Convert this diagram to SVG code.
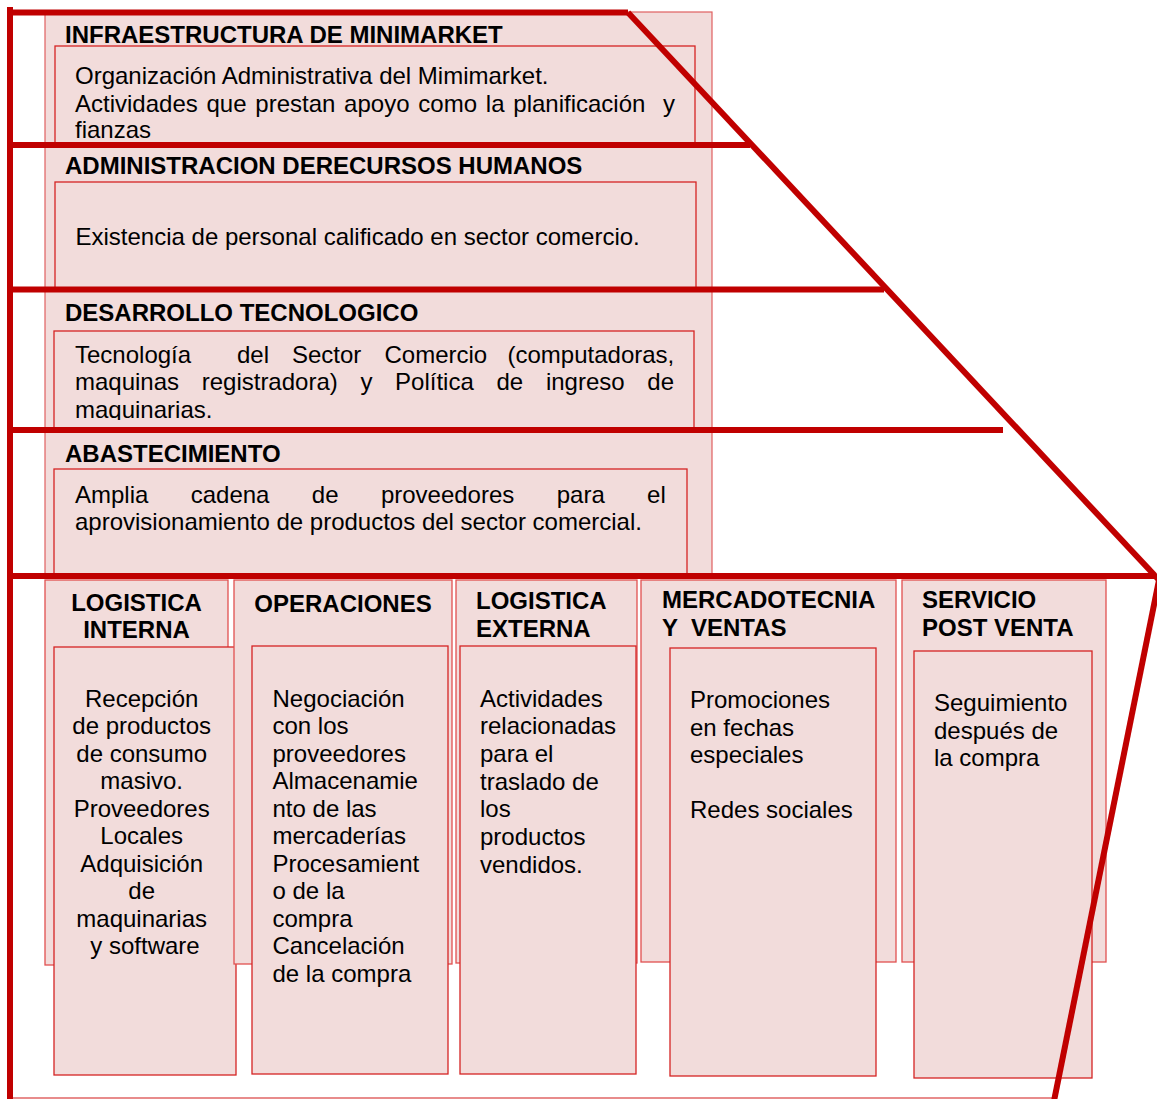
<svg xmlns="http://www.w3.org/2000/svg" width="1157" height="1099" viewBox="0 0 1157 1099">
<style>
.bg{fill:#f2dcdb;stroke:#e06060;stroke-width:1.2}
.box{fill:#f2dcdb;stroke:#d42424;stroke-width:1.3}
.col{fill:#f2dcdb;stroke:#e05050;stroke-width:1.3}
.fr{stroke:#c00000;stroke-width:6;fill:none;stroke-linecap:butt}
.thin{stroke:#e06666;stroke-width:1.3;fill:none}
text{font-family:"Liberation Sans",Arial,Helvetica,sans-serif;font-size:24px;fill:#000}
.h{font-weight:bold}
.c{text-anchor:middle}
</style>
<defs>
<clipPath id="clipTech"><rect x="54" y="331" width="641" height="89"/></clipPath>
<clipPath id="clipInfra"><rect x="55" y="46" width="641" height="99"/></clipPath>
</defs>
<rect class="bg" x="45" y="12" width="667" height="566"/>
<g id="support-infra">
<rect class="box" x="55" y="46" width="640" height="100"/>
<text class="h" x="65" y="42.5">INFRAESTRUCTURA DE MINIMARKET</text>
<g clip-path="url(#clipInfra)">
<text x="75" y="83.5">Organización Administrativa del Mimimarket.</text>
<text y="111.5"><tspan x="75">Actividades</tspan><tspan x="206.5">que</tspan><tspan x="255.3">prestan</tspan><tspan x="344.1">apoyo</tspan><tspan x="418.3">como</tspan><tspan x="485.8">la</tspan><tspan x="513.3">planificación</tspan><tspan x="662.9">y</tspan></text>
<text x="75" y="138">fianzas</text>
</g>
</g>
<g id="support-rrhh">
<rect class="box" x="55" y="182" width="641" height="108"/>
<text class="h" x="65" y="174.3">ADMINISTRACION DERECURSOS HUMANOS</text>
<text x="75.5" y="245">Existencia de personal calificado en sector comercio.</text>
</g>
<g id="support-tech">
<rect class="box" x="54" y="331" width="640" height="99"/>
<text class="h" x="65" y="321">DESARROLLO TECNOLOGICO</text>
<g clip-path="url(#clipTech)">
<text y="362.7"><tspan x="75">Tecnología</tspan><tspan x="237">del</tspan><tspan x="292">Sector</tspan><tspan x="384.5">Comercio</tspan><tspan x="507.5">(computadoras,</tspan></text>
<text y="390"><tspan x="75">maquinas</tspan><tspan x="201.7">registradora)</tspan><tspan x="360.4">y</tspan><tspan x="395.1">Política</tspan><tspan x="496.5">de</tspan><tspan x="545.9">ingreso</tspan><tspan x="647.3">de</tspan></text>
<text x="75" y="417.5">maquinarias.</text>
</g>
</g>
<g id="support-abast">
<rect class="box" x="54" y="469" width="633" height="108"/>
<text class="h" x="65" y="461.7">ABASTECIMIENTO</text>
<text y="502.7"><tspan x="75">Amplia</tspan><tspan x="190.7">cadena</tspan><tspan x="311.8">de</tspan><tspan x="380.9">proveedores</tspan><tspan x="556.7">para</tspan><tspan x="647.1">el</tspan></text>
<text x="75" y="530">aprovisionamiento de productos del sector comercial.</text>
</g>
<g id="primary-logistica-interna">
<rect class="col" x="45" y="580" width="183" height="385"/>
<text class="h c" x="136.5" y="610.7">LOGISTICA</text>
<text class="h c" x="136.5" y="638.3">INTERNA</text>
<rect class="box" x="54" y="647" width="182" height="428"/>
<text class="c">
<tspan x="145" y="706.7">Recepción</tspan>
<tspan x="145" y="734.2">de productos</tspan>
<tspan x="145" y="761.7">de consumo</tspan>
<tspan x="145" y="789.2">masivo.</tspan>
<tspan x="145" y="816.7">Proveedores</tspan>
<tspan x="145" y="844.2">Locales</tspan>
<tspan x="145" y="871.7">Adquisición</tspan>
<tspan x="145" y="899.2">de</tspan>
<tspan x="145" y="926.7">maquinarias</tspan>
<tspan x="145" y="954.2">y software</tspan>
</text>
</g>
<g id="primary-operaciones">
<rect class="col" x="234" y="580" width="218" height="384"/>
<text class="h c" x="343" y="611.7">OPERACIONES</text>
<rect class="box" x="252" y="646" width="196" height="428"/>
<text>
<tspan x="272.5" y="706.7">Negociación</tspan>
<tspan x="272.5" y="734.2">con los</tspan>
<tspan x="272.5" y="761.7">proveedores</tspan>
<tspan x="272.5" y="789.2">Almacenamie</tspan>
<tspan x="272.5" y="816.7">nto de las</tspan>
<tspan x="272.5" y="844.2">mercaderías</tspan>
<tspan x="272.5" y="871.7">Procesamient</tspan>
<tspan x="272.5" y="899.2">o de la</tspan>
<tspan x="272.5" y="926.7">compra</tspan>
<tspan x="272.5" y="954.2">Cancelación</tspan>
<tspan x="272.5" y="981.7">de la compra</tspan>
</text>
</g>
<g id="primary-logistica-externa">
<rect class="col" x="456" y="580" width="181" height="383"/>
<text class="h" x="476" y="609">LOGISTICA</text>
<text class="h" x="476" y="637">EXTERNA</text>
<rect class="box" x="460" y="646" width="176" height="428"/>
<text>
<tspan x="480" y="706.5">Actividades</tspan>
<tspan x="480" y="734.2">relacionadas</tspan>
<tspan x="480" y="761.9">para el</tspan>
<tspan x="480" y="789.6">traslado de</tspan>
<tspan x="480" y="817.3">los</tspan>
<tspan x="480" y="845">productos</tspan>
<tspan x="480" y="872.7">vendidos.</tspan>
</text>
</g>
<g id="primary-mercadotecnia">
<rect class="col" x="641" y="580" width="255" height="382"/>
<text class="h" x="662" y="608">MERCADOTECNIA</text>
<text class="h" x="662" y="636" xml:space="preserve">Y  VENTAS</text>
<rect class="box" x="670" y="648" width="206" height="428"/>
<text>
<tspan x="690" y="708">Promociones</tspan>
<tspan x="690" y="735.5">en fechas</tspan>
<tspan x="690" y="763">especiales</tspan>
<tspan x="690" y="818">Redes sociales</tspan>
</text>
</g>
<g id="primary-servicio">
<rect class="col" x="902" y="580" width="204" height="382"/>
<text class="h" x="922" y="608">SERVICIO</text>
<text class="h" x="922" y="636">POST VENTA</text>
<rect class="box" x="914" y="651" width="178" height="427"/>
<text>
<tspan x="934" y="711">Seguimiento</tspan>
<tspan x="934" y="738.5">después de</tspan>
<tspan x="934" y="766">la compra</tspan>
</text>
</g>
<g id="frame">
<line class="thin" x1="10" y1="1098" x2="1056" y2="1098"/>
<line class="fr" x1="10" y1="7" x2="10" y2="1099"/>
<line class="fr" x1="7" y1="12.5" x2="628" y2="12.5"/>
<line class="fr" x1="10" y1="145" x2="750" y2="145"/>
<line class="fr" x1="10" y1="289.5" x2="884" y2="289.5"/>
<line class="fr" x1="10" y1="430" x2="1003" y2="430"/>
<line class="fr" x1="10" y1="576" x2="1156" y2="576"/>
<line class="fr" x1="628" y1="12.5" x2="1159" y2="580"/>
<line class="fr" x1="1159" y1="580" x2="1054" y2="1101"/>
</g>
</svg>
